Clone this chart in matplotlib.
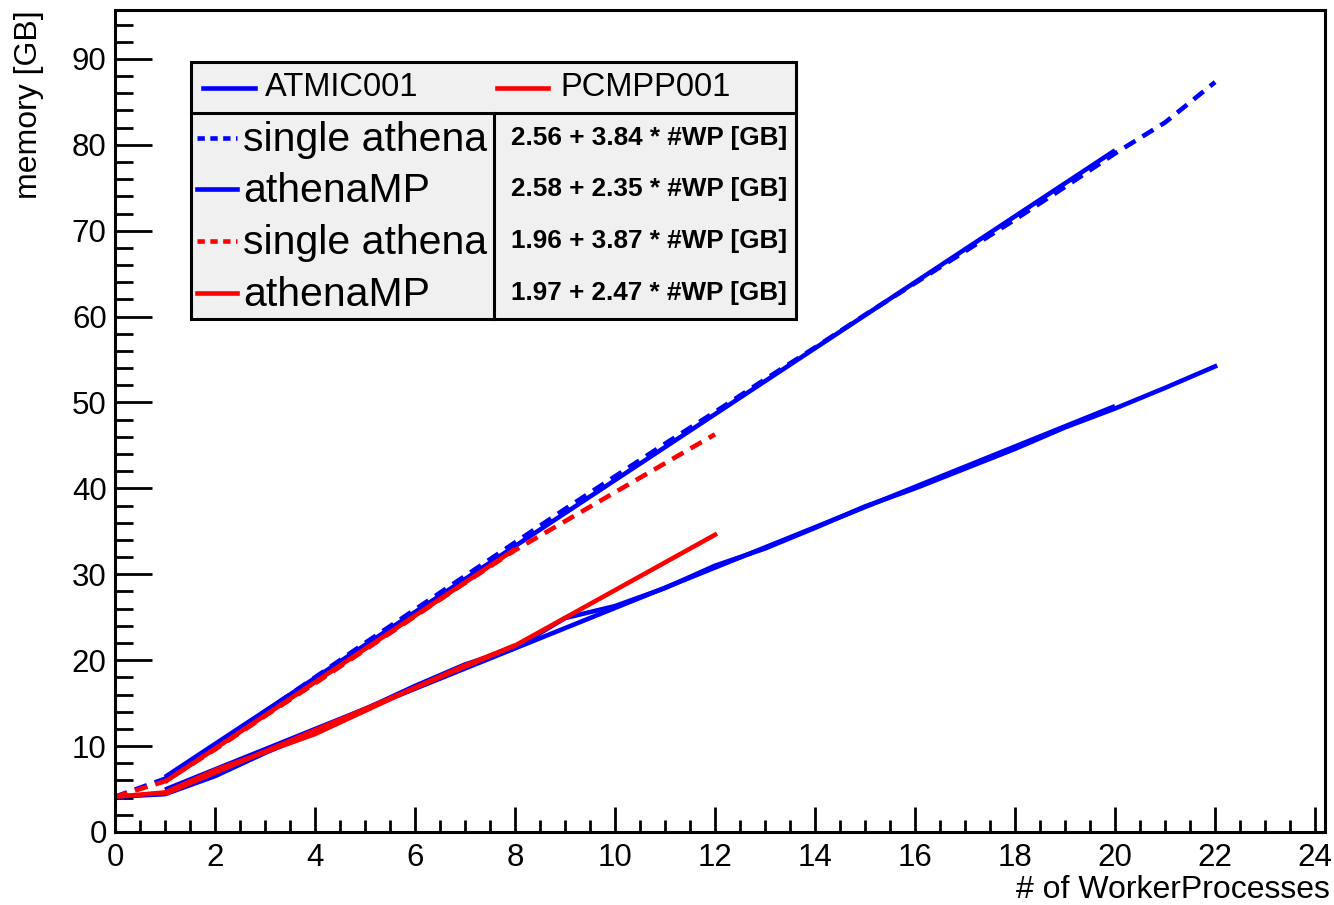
import matplotlib
matplotlib.use("Agg")
import matplotlib.pyplot as plt
from matplotlib.lines import Line2D
from matplotlib.patches import Rectangle
from matplotlib.ticker import MultipleLocator
import numpy as np

plt.rcParams['font.family'] = ['Liberation Sans', 'DejaVu Sans']

BLUE = '#0000ff'
RED = '#ff0000'

# measured memory vs number of worker processes
atmic_wp = [0, 1, 2, 3, 4, 5, 6, 7, 8, 9, 10, 11, 12, 13, 14, 15, 16, 17, 18, 19, 20, 21, 22]
atmic_single = [4.1, 6.2, 10.0, 14.0, 18.0, 22.0, 25.9, 29.8, 33.7, 37.6, 41.4, 45.2,
                48.9, 52.7, 56.4, 60.2, 63.9, 67.6, 71.3, 75.1, 79.0, 82.6, 87.3]
atmic_mp = [4.1, 4.4, 6.5, 9.2, 11.7, 14.3, 17.0, 19.5, 21.4, 24.9, 26.3, 28.4,
            31.0, 33.0, 35.4, 37.9, 40.0, 42.3, 44.6, 47.1, 49.3, 51.7, 54.2]

pcmpp_wp = [0, 1, 2, 3, 4, 5, 6, 7, 8, 12]
pcmpp_single = [4.1, 5.9, 9.6, 13.5, 17.3, 21.2, 25.1, 29.0, 32.8, 46.3]
pcmpp_mp = [4.1, 4.6, 7.2, 9.3, 11.4, 14.1, 16.8, 19.4, 21.7, 34.6]

# linear fits: offset + slope * #WP, with fit ranges
fit_labels = ['single athena', 'athenaMP', 'single athena', 'athenaMP']
fit_offset = [2.56, 2.58, 1.96, 1.97]
fit_slope = [3.84, 2.35, 3.87, 2.47]
fit_range = [(1, 20), (1, 20), (1, 8), (1, 8)]
fit_color = [BLUE, BLUE, RED, RED]
fit_dashed = [True, False, True, False]

fig = plt.figure(figsize=(13.34, 9.05), dpi=100)
ax = fig.add_axes([0.0862, 0.0807, 0.9071, 0.9083])

lw = 3.3
dash = (2.8, 1.8)


def fit_line(i):
    x = np.array(fit_range[i], dtype=float)
    return x, fit_offset[i] + fit_slope[i] * x


# ATMIC001
x, y = fit_line(0)
ax.plot(x, y, color=BLUE, lw=lw, solid_capstyle='butt')
x, y = fit_line(1)
ax.plot(x, y, color=BLUE, lw=lw, solid_capstyle='butt')
ax.plot(atmic_wp, atmic_single, color=BLUE, lw=lw, dashes=dash)
ax.plot(atmic_wp, atmic_mp, color=BLUE, lw=lw)

# PCMPP001
ax.plot(pcmpp_wp, pcmpp_single, color=RED, lw=lw, dashes=dash)
ax.plot(pcmpp_wp, pcmpp_mp, color=RED, lw=lw)
x, y = fit_line(2)
ax.plot(x, y, color=RED, lw=lw, solid_capstyle='butt')
x, y = fit_line(3)
ax.plot(x, y, color=RED, lw=lw, solid_capstyle='butt')

ax.set_xlim(0, 24.2)
ax.set_ylim(0, 95.7)
ax.xaxis.set_major_locator(MultipleLocator(2))
ax.xaxis.set_minor_locator(MultipleLocator(0.5))
ax.yaxis.set_major_locator(MultipleLocator(10))
ax.yaxis.set_minor_locator(MultipleLocator(2))
ax.tick_params(axis='x', which='major', direction='in', length=18, width=2,
               labelsize=22.5, pad=8)
ax.tick_params(axis='x', which='minor', direction='in', length=8.6, width=2)
ax.tick_params(axis='y', which='major', direction='in', length=26.5, width=2,
               labelsize=22.5, pad=6)
ax.tick_params(axis='y', which='minor', direction='in', length=13, width=2)
for sp in ax.spines.values():
    sp.set_linewidth(2.2)

ax.set_xlabel('# of WorkerProcesses', fontsize=23, loc='right')
ax.xaxis.set_label_coords(1.004, -0.052)
ax.set_ylabel('memory [GB]', fontsize=23, loc='top')
ax.yaxis.set_label_coords(-0.059, 1.0)

# legend box: header row with hosts, body with fits
tr = ax.transAxes
x0, x1 = 0.0628, 0.5628
y0, y1 = 0.6241, 0.9367
ysep = 0.8747
xdiv = 0.3132
ax.add_patch(Rectangle((x0 + 0.002, y0 - 0.003), x1 - x0, y1 - y0, transform=tr,
                       facecolor='black', edgecolor='none', zorder=9))
ax.add_patch(Rectangle((x0, y0), x1 - x0, y1 - y0, transform=tr,
                       facecolor='#f0f0f0', edgecolor='black', lw=2.2, zorder=10))
ax.add_line(Line2D([x0, x1], [ysep, ysep], transform=tr, color='black', lw=2.2, zorder=11))
ax.add_line(Line2D([xdiv, xdiv], [y0, ysep], transform=tr, color='black', lw=2.2, zorder=11))

yh = 0.9051
ax.add_line(Line2D([0.0727, 0.1157], [yh, yh], transform=tr, color=BLUE, lw=lw, zorder=12))
ax.text(0.124, yh, 'ATMIC001', transform=tr, fontsize=23.5, va='center', ha='left', zorder=12)
ax.add_line(Line2D([0.3157, 0.3579], [yh, yh], transform=tr, color=RED, lw=lw, zorder=12))
ax.text(0.3678, yh, 'PCMPP001', transform=tr, fontsize=23.5, va='center', ha='left', zorder=12)

rows_y = [0.8443, 0.7822, 0.7190, 0.6557]
for i, yr in enumerate(rows_y):
    kw = dict(dashes=(1.6, 1.2)) if fit_dashed[i] else {}
    ax.add_line(Line2D([0.0678, 0.1008], [yr, yr], transform=tr, color=fit_color[i],
                       lw=lw, zorder=12, **kw))
    ax.text(0.1058, yr - 0.002, fit_labels[i], transform=tr, fontsize=29.5,
            va='center', ha='left', zorder=12)
    ax.text(0.3273, yr, f'{fit_offset[i]:.2f} + {fit_slope[i]:.2f} * #WP [GB]',
            transform=tr, fontsize=18.8, fontweight='bold', va='center', ha='left', zorder=12)

fig.savefig('out.png', dpi=100)
